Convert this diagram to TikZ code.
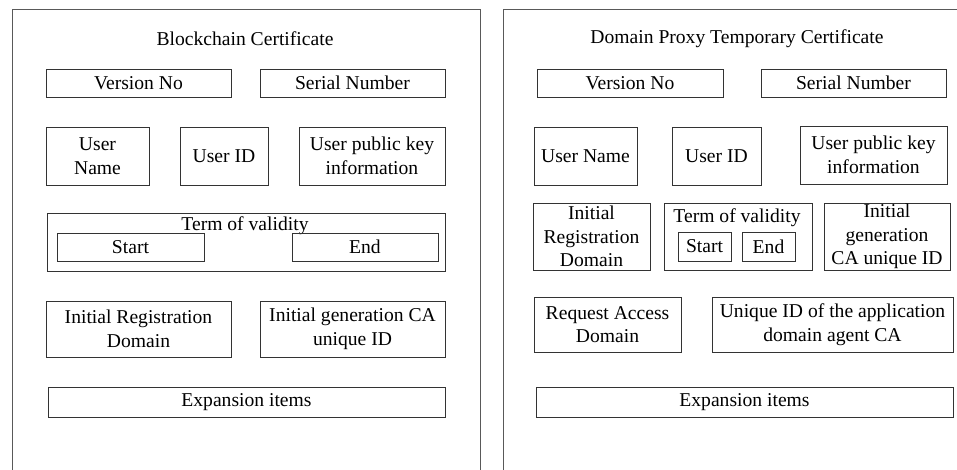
\documentclass[tikz,border=0pt]{standalone}
\usepackage{fontspec}
\setmainfont{Liberation Serif}
\usepackage{tikz}
\usetikzlibrary{positioning}

\begin{document}
\begin{tikzpicture}[x=1pt, y=-1pt,
  every node/.style={font=\fontsize{19.6}{23.5}\selectfont},
  field/.style={rectangle, draw=black!80, line width=0.9pt, inner sep=0pt, align=center},
  panel/.style={draw=black!65, line width=1pt}]
\useasboundingbox (0,0) rectangle (957,470);
\clip (0,0) rectangle (957,470);
% left panel
\draw[panel] (12,10) rectangle (480,520);
\node (ltitle) at (245,39) {Blockchain Certificate};
\node[field, minimum width=185pt, minimum height=28pt] (lver) at (138.5,83) {Version No};
\node[field, minimum width=185pt, minimum height=28pt] (lser) at (352.5,83) {Serial Number};
\node[field, minimum width=103pt, minimum height=58pt] (luname) at (97.5,156) {User\\Name};
\node[field, minimum width=88pt, minimum height=58pt] (luid) at (224,156) {User ID};
\node[field, minimum width=146pt, minimum height=58pt] (lkey) at (372,156) {User public key\\information};
\node[field, minimum width=398pt, minimum height=58pt] (lterm) at (246,242) {};
\node (ltermtxt) at (245,226) {Term of validity};
\node[field, minimum width=147pt, minimum height=28pt] (lstart) at (130.5,247) {Start};
\node[field, minimum width=146pt, minimum height=28pt] (lend) at (365,247) {End};
\node[field, minimum width=185pt, minimum height=56pt] (lreg) at (138.5,329) {Initial Registration\\Domain};
\node[field, minimum width=185pt, minimum height=56pt] (lgen) at (352.5,329) {Initial generation CA\\unique ID};
\node[field, minimum width=397pt, minimum height=30pt] (lexp) at (246.5,402) {Expansion items};
% right panel
\draw[panel] (503,10) rectangle (1000,520);
\node (rtitle) at (737,39) {Domain Proxy Temporary Certificate};
\node[field, minimum width=186pt, minimum height=28pt] (rver) at (630,83) {Version No};
\node[field, minimum width=185pt, minimum height=28pt] (rser) at (853.5,83) {Serial Number};
\node[field, minimum width=103pt, minimum height=58pt] (runame) at (585.5,156) {User Name};
\node[field, minimum width=89pt, minimum height=58pt] (ruid) at (716.5,156) {User ID};
\node[field, minimum width=147pt, minimum height=58pt] (rkey) at (873.5,155) {User public key\\information};
\node[field, minimum width=117pt, minimum height=67pt] (rreg) at (591.5,236.5) {Initial\\Registration\\Domain};
\node[field, minimum width=148pt, minimum height=67pt] (rterm) at (738,236.5) {};
\node (rtermtxt) at (737,218) {Term of validity};
\node[field, minimum width=53pt, minimum height=29pt] (rstart) at (704.5,246.5) {Start};
\node[field, minimum width=53pt, minimum height=29pt] (rend) at (768.5,246.5) {End};
\node[field, minimum width=126pt, minimum height=67pt] (rgen) at (887,236.5) {Initial\\generation\\CA unique ID};
\node[field, minimum width=147pt, minimum height=55pt] (rreq) at (607.5,324.5) {Request Access\\Domain};
\node[field, minimum width=241pt, minimum height=55pt] (ruqid) at (832.5,324.5) {Unique ID of the application\\domain agent CA};
\node[field, minimum width=417pt, minimum height=30pt] (rexp) at (744.5,402) {Expansion items};
\end{tikzpicture}
\end{document}
